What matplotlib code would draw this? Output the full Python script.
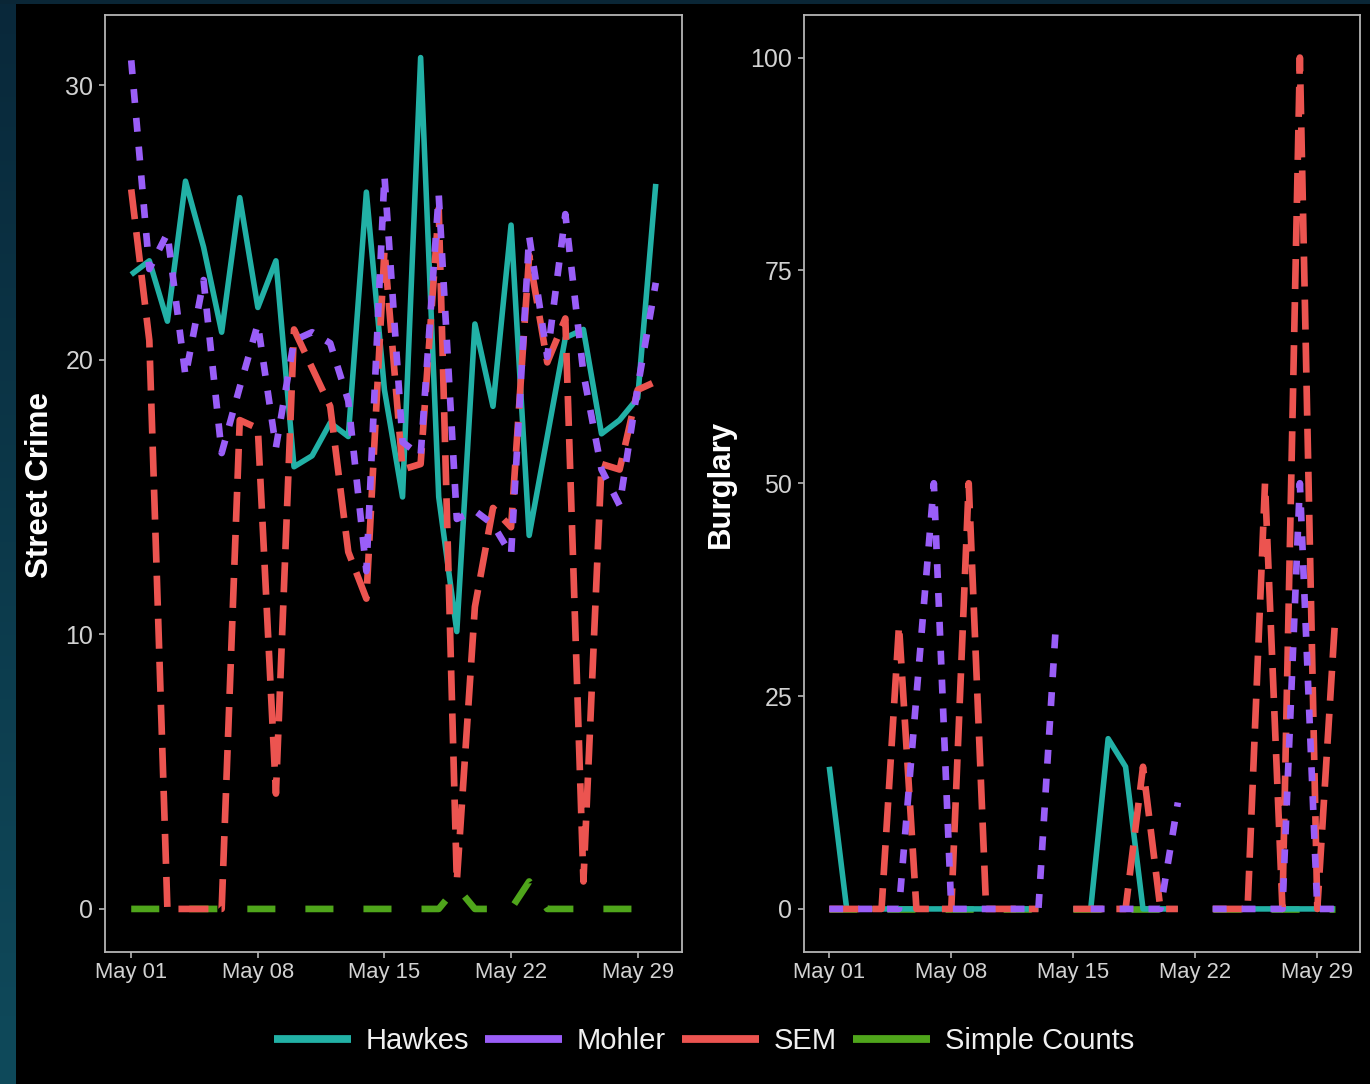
import numpy as np
import pandas as pd
import matplotlib
matplotlib.use("Agg")
import matplotlib.pyplot as plt
import matplotlib.dates as mdates
from matplotlib.lines import Line2D
from matplotlib.colors import LinearSegmentedColormap
from matplotlib import font_manager

nan = np.nan
dates = pd.date_range("2019-05-01", "2019-05-30", freq="D")
series_names = ["Hawkes", "Mohler", "SEM", "Simple Counts"]
series_colors = ["#22B1A6", "#9A5EF8", "#EC5450", "#4FA51B"]

# Street Crime panel
street_hawkes = [23.1, 23.6, 21.4, 26.5, 24.1, 21.0, 25.9, 21.9, 23.6, 16.1,
                 16.5, 17.7, 17.2, 26.1, 18.9, 15.0, 31.0, 15.0, 10.1, 21.3,
                 18.3, 24.9, 13.6, 17.2, 20.8, 21.1, 17.3, 17.8, 18.6, 26.4]
street_mohler = [30.9, 23.3, 24.6, 19.4, 22.9, 16.6, 19.0, 21.3, 16.8, 20.7,
                 21.0, 20.6, 18.5, 12.3, 26.7, 17.0, 16.5, 26.0, 14.2, 14.5,
                 14.0, 12.9, 24.5, 20.1, 25.3, 19.5, 16.0, 14.7, 19.0, 22.8]
street_sem = [26.2, 20.7, 0, 0, 0, 0, 17.8, 17.5, 4.2, 21.1,
              19.7, 18.3, 13.0, 11.3, 24.0, 16.0, 16.2, 25.5, 1.0, 11.0,
              14.6, 13.9, 23.8, 19.9, 21.5, 1.0, 16.2, 16.0, 18.9, 19.2]
street_simple = [0, 0, 0, 0, 0, 0, 0, 0, 0, 0,
                 0, 0, 0, 0, 0, 0, 0, 0, 0.8, 0,
                 0, 0, 1.0, 0, 0, 0, 0, 0, 0, 0]

# Burglary panel
burg_hawkes = [16.7, 0, 0, 0, 0, 0, 0, 0, 0, 0,
               0, 0, 0, nan, 0, 0, 20.0, 16.7, 0, 0,
               0, nan, 0, 0, 0, 0, 0, 0, 0, 0]
burg_mohler = [0, 0, 0, 0, 0, 25.0, 50.0, 0, 0, 0,
               0, 0, 0, 33.3, nan, 0, 0, 0, 0, 0,
               12.5, nan, 0, 0, 0, 0, 0, 50.0, 0, 0]
burg_sem = [0, 0, 0, 0, 33.3, 0, 0, 0, 50.0, 0,
            0, 0, 0, nan, 0, 0, 0, 0, 16.7, 0,
            0, nan, 0, 0, 0, 50.0, 0, 100.0, 0, 33.3]
burg_simple = [0, 0, 0, 0, 0, 0, 0, 0, 0, 0,
               0, 0, 0, nan, 0, 0, 0, 0, 0, 0,
               0, nan, 0, 0, 0, 0, 0, 0, 0, 0]

panels = [
    ("Street Crime", [street_hawkes, street_mohler, street_sem, street_simple], [0, 10, 20, 30]),
    ("Burglary", [burg_hawkes, burg_mohler, burg_sem, burg_simple], [0, 25, 50, 75, 100]),
]

installed = {f.name for f in font_manager.fontManager.ttflist}
if "Liberation Sans Narrow" in installed:
    text_family = ["Liberation Sans Narrow", "DejaVu Sans"]
    legend_size, xtick_size, ytick_size = 24.5, 19.0, 20.5
else:
    text_family = ["Liberation Sans", "DejaVu Sans"]
    legend_size, xtick_size, ytick_size = 21.0, 15.8, 18.0

plt.rcParams["font.family"] = text_family
plt.rcParams["lines.scale_dashes"] = False

W, H = 1370, 1084
fig = plt.figure(figsize=(W / 100, H / 100), dpi=100, facecolor="black")

# slide background strips
strip = fig.add_axes([0, 0, 16 / W, 1])
grad = np.linspace(0, 1, 256).reshape(-1, 1)
cmap = LinearSegmentedColormap.from_list("bg", ["#09283a", "#0f4a5b"])
strip.imshow(grad, aspect="auto", cmap=cmap, extent=[0, 1, 0, 1], origin="upper")
strip.axis("off")
topstrip = fig.add_axes([0, 1 - 4 / H, 1, 4 / H])
topstrip.axis("off")
topstrip.add_patch(plt.Rectangle((0, 0), 1, 1, transform=topstrip.transAxes, color="#0a2636"))

axes_rects = [
    [105 / W, (H - 951.5) / H, 577 / W, 936.5 / H],
    [804 / W, (H - 951.5) / H, 556 / W, 936.5 / H],
]
label_pos = [(40, 485), (721, 484)]

styles = {
    "Hawkes": dict(linestyle="-", lw=4.0, z=3),
    "Mohler": dict(linestyle=(0, (10.0, 10.8)), lw=4.8, z=5),
    "SEM": dict(linestyle=(0, (21.6, 9.4)), lw=4.8, z=4),
    "Simple Counts": dict(linestyle=(0, (20.2, 21.6)), lw=4.8, z=2),
}

spine_col = "#b5b5b5"
tick_col = "#d2d2d2"

for (ylabel, data, yticks), rect, lp in zip(panels, axes_rects, label_pos):
    ax = fig.add_axes(rect)
    ax.set_facecolor("black")
    for name, col, vals in zip(series_names, series_colors, data):
        st = styles[name]
        ax.plot(dates, vals, color=col, linestyle=st["linestyle"], lw=st["lw"],
                zorder=st["z"], solid_capstyle="butt", dash_capstyle="butt",
                solid_joinstyle="round", dash_joinstyle="round")
    allv = np.array([v for s in data for v in s], dtype=float)
    vmax = np.nanmax(allv)
    vmin = np.nanmin(allv)
    pad = 0.05 * (vmax - vmin)
    ax.set_ylim(vmin - pad, vmax + pad)
    ax.set_xlim(dates[0] - pd.Timedelta(days=1.45), dates[-1] + pd.Timedelta(days=1.45))
    ax.set_yticks(yticks)
    ax.set_yticklabels([str(t) for t in yticks])
    ax.xaxis.set_major_locator(mdates.DayLocator(bymonthday=[1, 8, 15, 22, 29]))
    ax.xaxis.set_major_formatter(mdates.DateFormatter("%b %d"))
    for sp in ax.spines.values():
        sp.set_color(spine_col)
        sp.set_linewidth(1.3)
    ax.tick_params(axis="both", colors=spine_col, length=4.5, width=1.2)
    ax.tick_params(axis="x", labelcolor=tick_col, labelsize=xtick_size, pad=3)
    ax.tick_params(axis="y", labelcolor=tick_col, labelsize=ytick_size, pad=4)
    fig.text(lp[0] / W, 1 - lp[1] / H, ylabel, rotation=90, ha="center", va="center",
             color="white", fontsize=22.5, fontweight="bold",
             family=["Liberation Sans", "DejaVu Sans"])

handles = [Line2D([0], [0], color=c, lw=5.6, solid_capstyle="butt") for c in series_colors]
fig.legend(handles, series_names, loc="center", bbox_to_anchor=(704 / W, (H - 1041) / H),
           ncol=4, frameon=False, fontsize=legend_size, handlelength=2.65 * 21.0 / legend_size,
           handletextpad=0.5 * 21.0 / legend_size, columnspacing=0.55 * 21.0 / legend_size,
           labelcolor="#f0f0f0")

fig.savefig("out.png", dpi=100, facecolor="black")
